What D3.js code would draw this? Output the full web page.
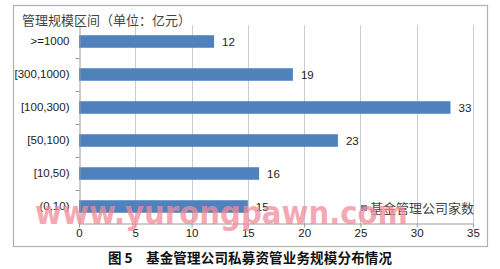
<!DOCTYPE html>
<html>
<head>
<meta charset="utf-8">
<script src="https://cdn.jsdelivr.net/npm/d3@7"></script>
<style>
	body { margin: 0; background: #fff; }
	svg { display: block; }
</style>
</head>
<body>
<div id="chart"></div>
<script>
//===== DATA =====//
var categories = ['>=1000', '[300,1000)', '[100,300)', '[50,100)', '[10,50)', '(0,10)'];
var companyCounts = [12, 19, 33, 23, 16, 15];
var xTicks = [0, 5, 10, 15, 20, 25, 30, 35];
var seriesName = '基金管理公司家数';
var axisTitle = '管理规模区间（单位：亿元）';
var captionLabel = '图 5';
var captionText = '基金管理公司私募资管业务规模分布情况';
var watermark = 'www.yurongpawn.com';

//===== CHART =====//
var width = 500, height = 269;
var plot = {left: 79, right: 473, top: 25, bottom: 223};
var barColor = '#4f81bd', gridColor = '#c8ccd4', axisColor = '#9a9a9a';
var labelFont = '"Liberation Sans", Arial, sans-serif';

var svg = d3.select('#chart')
	.append('svg')
	.attr('width', width)
	.attr('height', height);

// outer frame
svg.append('rect')
	.attr('x', 13.5).attr('y', 5.5)
	.attr('width', 474).attr('height', 241)
	.attr('fill', '#fff')
	.attr('stroke', '#b0b0b0')
	.attr('stroke-width', 1.2);

var x = d3.scaleLinear().domain([0, 35]).range([plot.left, plot.right]);
var y = d3.scaleBand().domain(categories).range([plot.top, plot.bottom]).paddingInner(0.62).paddingOuter(0.31);
var yEdges = d3.scaleBand().domain(categories).range([plot.top, plot.bottom]);

// gridlines
svg.append('g')
	.selectAll('line')
	.data(xTicks.slice(1))
	.enter()
	.append('line')
	.attr('x1', function (d) { return Math.round(x(d)) + 0.5; })
	.attr('x2', function (d) { return Math.round(x(d)) + 0.5; })
	.attr('y1', plot.top).attr('y2', plot.bottom)
	.attr('stroke', gridColor)
	.attr('stroke-width', 1);

// bars
svg.append('g')
	.selectAll('rect')
	.data(companyCounts)
	.enter()
	.append('rect')
	.attr('x', x(0))
	.attr('y', function (d, i) { return y(categories[i]); })
	.attr('width', function (d) { return x(d) - x(0); })
	.attr('height', y.bandwidth())
	.attr('fill', barColor);

// value labels
svg.append('g')
	.selectAll('text')
	.data(companyCounts)
	.enter()
	.append('text')
	.attr('x', function (d) { return x(d) + 8; })
	.attr('y', function (d, i) { return y(categories[i]) + y.bandwidth() / 2 + 4; })
	.attr('font-family', labelFont)
	.attr('font-size', 11.5)
	.attr('fill', '#222')
	.text(function (d) { return d; });

// x axis
var xAxis = svg.append('g')
	.attr('transform', 'translate(0,' + (plot.bottom + 0.5) + ')')
	.call(d3.axisBottom(x).tickValues(xTicks).tickSize(4).tickSizeOuter(0));
xAxis.select('.domain').attr('stroke', axisColor);
xAxis.selectAll('.tick line').attr('stroke', axisColor);
xAxis.selectAll('text')
	.attr('dy', '0.55em')
	.attr('font-family', labelFont)
	.attr('font-size', 11.5)
	.attr('fill', '#222');

// y axis: ticks at category boundaries
var yAxis = svg.append('g')
	.attr('transform', 'translate(' + (plot.left + 0.5) + ',0)')
	.call(d3.axisLeft(y).tickSize(0).tickPadding(10).tickSizeOuter(0));
yAxis.select('.domain').attr('stroke', axisColor);
yAxis.selectAll('text')
	.attr('font-family', labelFont)
	.attr('font-size', 11.5)
	.attr('fill', '#222');
yAxis.selectAll('line.edge')
	.data(categories.slice(1))
	.enter()
	.append('line')
	.classed('edge', true)
	.attr('x1', -4).attr('x2', 0)
	.attr('y1', function (d) { return Math.round(yEdges(d)) + 0.5; })
	.attr('y2', function (d) { return Math.round(yEdges(d)) + 0.5; })
	.attr('stroke', axisColor);

// axis title
svg.append('text')
	.attr('x', 22).attr('y', 25)
	.attr('font-family', '"Noto Sans CJK SC", sans-serif')
	.attr('font-size', 13)
	.attr('fill', '#444')
	.text(axisTitle);

// legend
svg.append('rect')
	.attr('x', 361).attr('y', 205)
	.attr('width', 6).attr('height', 6)
	.attr('fill', barColor);
svg.append('text')
	.attr('x', 370).attr('y', 213)
	.attr('font-family', '"Noto Sans CJK SC", sans-serif')
	.attr('font-size', 13)
	.attr('fill', '#444')
	.text(seriesName);

// watermark
svg.append('text')
	.attr('x', 35).attr('y', 224)
	.attr('textLength', 373)
	.attr('lengthAdjust', 'spacingAndGlyphs')
	.attr('font-family', '"DejaVu Sans", Verdana, sans-serif')
	.attr('font-weight', 'bold')
	.attr('font-size', 32)
	.attr('fill', '#f08c9a')
	.attr('fill-opacity', 0.75)
	.text(watermark);

// caption
svg.append('text')
	.attr('x', 108).attr('y', 263)
	.attr('font-family', '"Noto Sans CJK SC", serif')
	.attr('font-weight', 'bold')
	.attr('font-size', 13.5)
	.attr('fill', '#111')
	.text(captionLabel);
svg.append('text')
	.attr('x', 146).attr('y', 263)
	.attr('textLength', 246)
	.attr('lengthAdjust', 'spacing')
	.attr('font-family', '"Noto Sans CJK SC", serif')
	.attr('font-weight', 'bold')
	.attr('font-size', 13.5)
	.attr('fill', '#111')
	.text(captionText);
</script>
</body>
</html>
